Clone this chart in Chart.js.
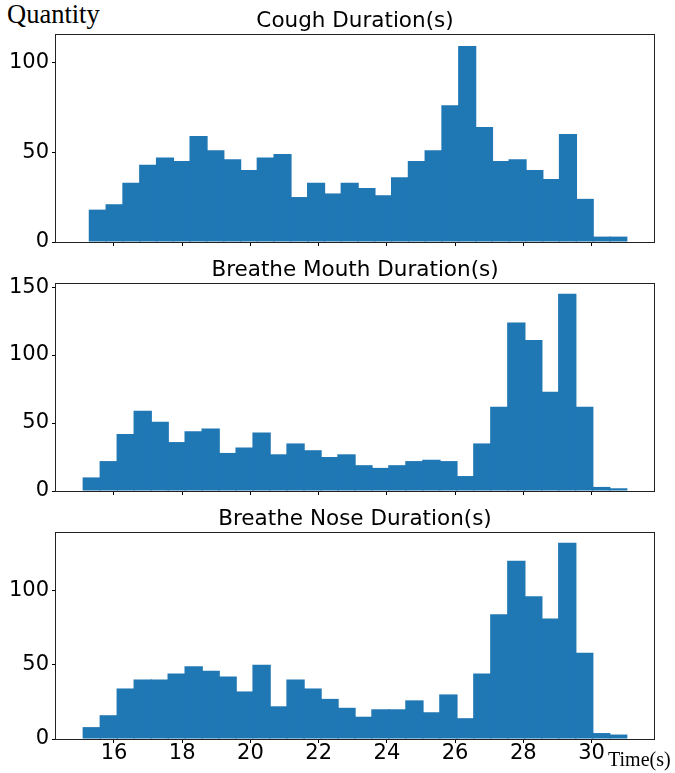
<!DOCTYPE html>
<html>
<head>
<meta charset="utf-8">
<script src="https://cdn.jsdelivr.net/npm/chart.js@4.4.0/dist/chart.umd.min.js"></script>
<style>
  body { margin: 0; background: #fff; width: 675px; height: 773px; position: relative; overflow: hidden; }
  canvas { position: absolute; left: 0; }
  .lbl { position: absolute; font-family: "Liberation Serif", serif; color: #000; white-space: nowrap; line-height: 1; }
</style>
</head>
<body>
<div class="lbl" style="left:7px; top:0.5px; font-size:26.5px;">Quantity</div>
<canvas id="c1" width="675" height="250" style="top:0px"></canvas>
<canvas id="c2" width="675" height="250" style="top:250px"></canvas>
<canvas id="c3" width="675" height="273" style="top:500px"></canvas>
<div class="lbl" style="left:608px; top:749px; font-size:20px;">Time(s)</div>
<script>
// shared x axis
var xTicks = [16, 18, 20, 22, 24, 26, 28, 30];
var xMin = 14.30, xMax = 31.83;

// cough
var coughTitle = 'Cough Duration(s)';
var coughBinStart = 15.28;
var coughBinWidth = 0.4922;
var coughCounts = [18, 21, 33, 43, 47, 45, 59, 51, 46, 40, 47, 49, 25, 33, 27, 33,
                   30, 26, 36, 45, 51, 76, 109, 64, 45, 46, 40, 35, 60, 24, 3, 3];
var coughYTicks = [0, 50, 100];
var coughYMax = 115.1;

// breathe mouth
var mouthTitle = 'Breathe Mouth Duration(s)';
var mouthBinStart = 15.10;
var mouthBinWidth = 0.4978;
var mouthCounts = [10, 22, 42, 59, 51, 36, 44, 46, 28, 32, 43, 27, 35, 30, 25, 27,
                   19, 17, 19, 22, 23, 22, 11, 35, 62, 124, 111, 73, 145, 62, 3, 2];
var mouthYTicks = [0, 50, 100, 150];
var mouthYMax = 152.25;

// breathe nose
var noseTitle = 'Breathe Nose Duration(s)';
var noseBinStart = 15.10;
var noseBinWidth = 0.4978;
var noseCounts = [8, 16, 34, 40, 40, 44, 49, 46, 42, 32, 50, 22, 40, 34, 27, 21,
                  15, 20, 20, 26, 18, 30, 14, 44, 84, 120, 96, 81, 132, 58, 4, 3];
var noseYTicks = [0, 50, 100];
var noseYMax = 138.6;

var frame = {
  id: 'frame',
  afterDraw: function (chart) {
    var a = chart.chartArea, ctx = chart.ctx;
    ctx.save();
    ctx.strokeStyle = '#222';
    ctx.lineWidth = 1;
    ctx.strokeRect(a.left - 0.5, a.top - 0.5, a.right - a.left + 1, a.bottom - a.top + 1);
    ctx.restore();
  }
};

function noPad(s) {
  s.paddingTop = 0; s.paddingBottom = 0; s.paddingLeft = 0; s.paddingRight = 0;
}

function panel(id, title, binStart, binWidth, counts, yMax, yTicks, showX, padTop, xHeight) {
  var pts = counts.map(function (c, i) {
    return { x: binStart + (i + 0.5) * binWidth, y: c };
  });
  var tickFont = { family: "'DejaVu Sans'", size: 21, lineHeight: 1 };
  return new Chart(document.getElementById(id), {
    type: 'bar',
    data: {
      datasets: [{
        data: pts,
        backgroundColor: '#1f77b4',
        borderWidth: 0,
        barPercentage: 1.08,
        categoryPercentage: 1
      }]
    },
    options: {
      responsive: false,
      animation: false,
      layout: { padding: { top: padTop, left: 0, right: 21, bottom: 0 } },
      plugins: {
        legend: { display: false },
        tooltip: { enabled: false },
        title: {
          display: true,
          text: title,
          fullSize: false,
          color: '#000',
          font: { family: "'DejaVu Sans'", size: 21.5, weight: 'normal', lineHeight: 1.2 },
          padding: { top: 0, bottom: 1 }
        }
      },
      scales: {
        x: {
          type: 'linear',
          min: xMin,
          max: xMax,
          offset: false,
          afterBuildTicks: function (s) { s.ticks = xTicks.map(function (v) { return { value: v }; }); },
          afterFit: function (s) { s.height = xHeight; noPad(s); },
          grid: { offset: false, drawOnChartArea: false, drawTicks: true, tickLength: 4, color: '#000' },
          border: { display: false },
          ticks: {
            color: showX ? '#000' : 'rgba(0,0,0,0)',
            font: tickFont,
            padding: 0,
            maxRotation: 0,
            autoSkip: false
          }
        },
        y: {
          min: 0,
          max: yMax,
          afterBuildTicks: function (s) { s.ticks = yTicks.map(function (v) { return { value: v }; }); },
          afterFit: function (s) { s.width = 56; noPad(s); },
          grid: { drawOnChartArea: false, drawTicks: true, tickLength: 4, color: '#000' },
          border: { display: false },
          ticks: { color: '#000', font: tickFont, padding: 3 }
        }
      }
    },
    plugins: [frame]
  });
}

panel('c1', coughTitle, coughBinStart, coughBinWidth, coughCounts, coughYMax, coughYTicks, false, 8.2, 8);
panel('c2', mouthTitle, mouthBinStart, mouthBinWidth, mouthCounts, mouthYMax, mouthYTicks, false, 7.2, 9);
panel('c3', noseTitle, noseBinStart, noseBinWidth, noseCounts, noseYMax, noseYTicks, true, 6.2, 34);
</script>
</body>
</html>
